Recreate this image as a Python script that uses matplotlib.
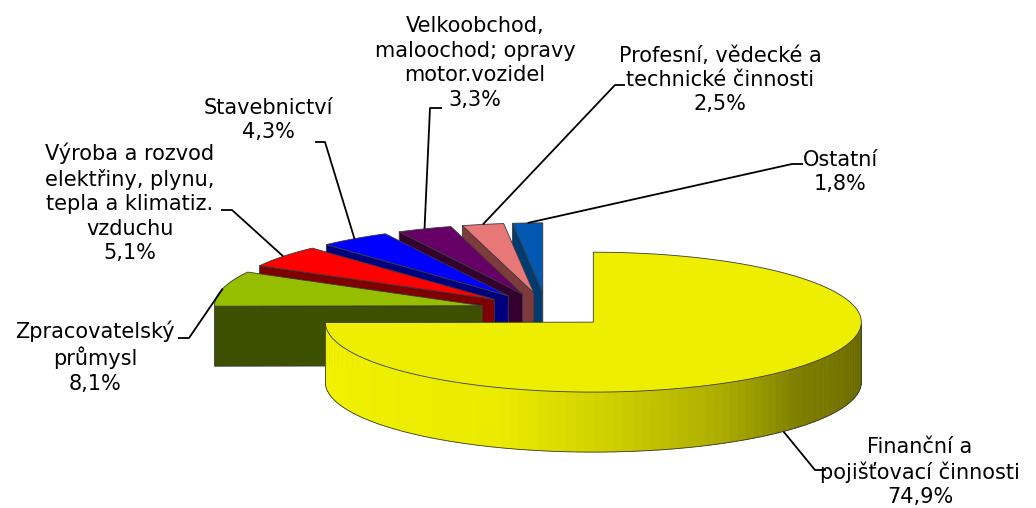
import numpy as np
import matplotlib.pyplot as plt
from matplotlib.patches import Polygon

labels = [
    "Finanční a\npojišťovací činnosti",
    "Zpracovatelský\nprůmysl",
    "Výroba a rozvod\nelektřiny, plynu,\ntepla a klimatiz.\nvzduchu",
    "Stavebnictví",
    "Velkoobchod,\nmaloochod; opravy\nmotor.vozidel",
    "Profesní, vědecké a\ntechnické činnosti",
    "Ostatní",
]
values = [74.9, 8.1, 5.1, 4.3, 3.3, 2.5, 1.8]
pct_text = ["74,9%", "8,1%", "5,1%", "4,3%", "3,3%", "2,5%", "1,8%"]

top_colors = ["#EEEE00", "#96BE00", "#FF0000", "#0000FF", "#660066", "#E87878", "#0058B0"]
cut_colors = ["#C8C800", "#3D5000", "#7F0000", "#00007F", "#33002F", "#7F3B3B", "#003A6E"]

# pie geometry (pixels)
cx, cy = 546.5, 310.0
R = 268.0
k = 0.261
depth = 60.0
explode = 66.0

# label layout: text centre, leader bend, leader end
label_pos = [(920, 472), (95, 357), (130, 203), (268, 120), (475, 63), (720, 80), (840, 172)]
leader_pts = [
    [(815, 470), (826, 470)],
    [(189, 338), (178, 338)],
    [(232, 210), (221, 210)],
    [(325, 142), (315, 142)],
    [(430, 108), (442, 108)],
    [(615, 85), (625, 85)],
    [(792, 164), (803, 164)],
]

fig = plt.figure(figsize=(10.36, 5.08), dpi=100)
ax = fig.add_axes([0, 0, 1, 1])
ax.set_xlim(0, 1036)
ax.set_ylim(508, 0)
ax.axis("off")


def pt(apex, th, r=1.0, bottom=False):
    x = apex[0] + R * r * np.cos(th)
    y = apex[1] - R * k * r * np.sin(th) + (depth if bottom else 0.0)
    return x, y


def shade(color, f):
    c = np.array(plt.matplotlib.colors.to_rgb(color))
    return tuple(np.clip(c * f, 0, 1))


# slice angles, clockwise from 12 o'clock
fr = np.array(values) / sum(values)
ends = np.pi / 2 - 2 * np.pi * np.cumsum(fr)
starts = np.concatenate([[np.pi / 2], ends[:-1]])

slices = []
for i in range(len(values)):
    hi, lo = starts[i], ends[i]
    mid = (hi + lo) / 2
    apex = (cx + explode * np.cos(mid), cy - explode * k * np.sin(mid))
    slices.append((apex[1], i, hi, lo, mid, apex))

ec = "#3a3a3a"
lw = 0.6
for _, i, hi, lo, mid, apex in sorted(slices):
    a_top = (apex[0], apex[1])
    a_bot = (apex[0], apex[1] + depth)
    # outer wall, front part only (sin < 0)
    th = np.linspace(lo, hi, 400)
    front = np.sin(th) < -0.02
    if front.sum() > 2:
        tf = th[front]
        n = 80 if i == 0 else 1
        chunks = np.array_split(tf, n)
        for j, ch in enumerate(chunks):
            if j < len(chunks) - 1:
                ch = np.append(ch, chunks[j + 1][0])
            topx, topy = pt(apex, ch)
            botx, boty = pt(apex, ch, bottom=True)
            poly = np.column_stack([np.concatenate([topx, botx[::-1]]),
                                    np.concatenate([topy, boty[::-1]])])
            deg = np.degrees(np.mod(ch.mean(), 2 * np.pi))
            f = np.interp(deg, [180, 250, 275, 300, 320, 360], [1.0, 0.97, 0.85, 0.7, 0.52, 0.42])
            col = shade("#F2F200", f) if i == 0 else cut_colors[i]
            ax.add_patch(Polygon(poly, closed=True, facecolor=col, edgecolor=col, lw=0.5))
        topx, topy = pt(apex, tf)
        botx, boty = pt(apex, tf, bottom=True)
        ax.plot(botx, boty, color=ec, lw=lw)
        ax.plot([topx[0], botx[0]], [topy[0], boty[0]], color=ec, lw=lw)
        ax.plot([topx[-1], botx[-1]], [topy[-1], boty[-1]], color=ec, lw=lw)
    # radial cut faces that face the viewer
    for ang, sign in ((hi, 1), (lo, -1)):
        if sign * np.cos(ang) < -1e-6:
            p1 = pt(apex, ang)
            p2 = pt(apex, ang, bottom=True)
            ax.add_patch(Polygon([a_top, p1, p2, a_bot], closed=True,
                                 facecolor=cut_colors[i], edgecolor=ec, lw=lw))
    # top face
    tx, ty = pt(apex, np.linspace(hi, lo, 400))
    poly = np.column_stack([np.concatenate([[apex[0]], tx]), np.concatenate([[apex[1]], ty])])
    ax.add_patch(Polygon(poly, closed=True, facecolor=top_colors[i], edgecolor=ec, lw=lw))

# labels and leader lines
for _, i, hi, lo, mid, apex in slices:
    sx, sy = pt(apex, mid, bottom=(i == 0))
    xs = [sx] + [p[0] for p in leader_pts[i]]
    ys = [sy] + [p[1] for p in leader_pts[i]]
    ax.plot(xs, ys, color="black", lw=1.3, solid_capstyle="butt")
    ax.text(label_pos[i][0], label_pos[i][1], labels[i] + "\n" + pct_text[i],
            ha="center", va="center", multialignment="center",
            fontsize=15, family="DejaVu Sans", linespacing=1.28, color="black")

fig.savefig("out.png", dpi=100)
